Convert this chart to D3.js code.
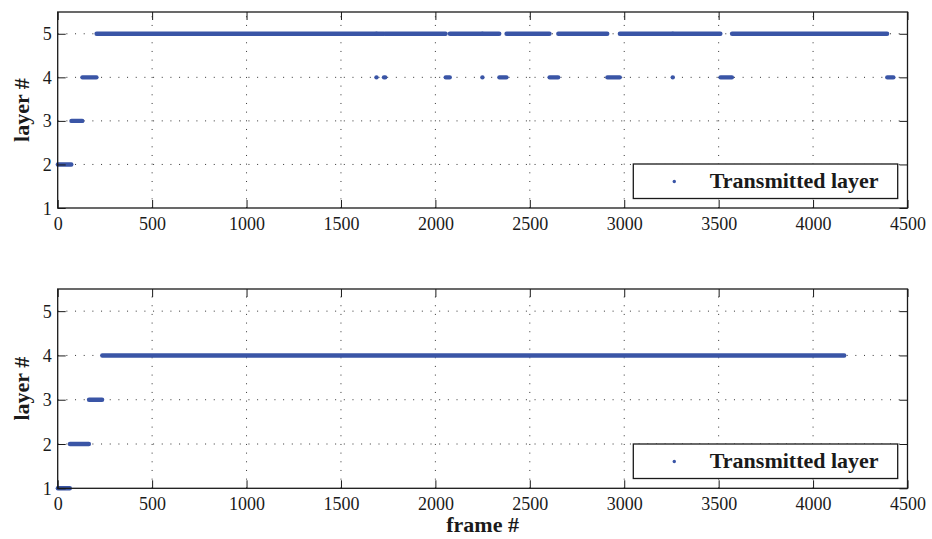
<!DOCTYPE html>
<html>
<head>
<meta charset="utf-8">
<script src="https://cdn.jsdelivr.net/npm/d3@7"></script>
<style>
  html, body { margin: 0; padding: 0; background: #fff; }
  svg { display: block; }
  text { font-family: "Liberation Serif", "Times New Roman", serif; fill: #1a1a1a; }
</style>
</head>
<body>
<script>
// Tick values shared by both panels
const xTicks = [0, 500, 1000, 1500, 2000, 2500, 3000, 3500, 4000, 4500];
const yTicks = [1, 2, 3, 4, 5];

// Upper panel: runs of consecutive frames sent at the same layer
const topRunStart = [1, 73, 131, 206, 1688, 1689, 1728, 1735, 2055, 2077, 2249, 2250, 2339, 2377, 2605, 2651, 2911, 2977, 3257, 3258, 3510, 3571, 4393];
const topRunEnd   = [72, 130, 205, 1687, 1688, 1727, 1734, 2054, 2076, 2248, 2249, 2338, 2376, 2604, 2650, 2910, 2976, 3256, 3257, 3509, 3570, 4392, 4425];
const topRunLayer = [2, 3, 4, 5, 4, 5, 4, 5, 4, 5, 4, 5, 4, 5, 4, 5, 4, 5, 4, 5, 4, 5, 4];

// Lower panel
const botRunStart = [1, 65, 166, 236];
const botRunEnd   = [64, 165, 235, 4165];
const botRunLayer = [1, 2, 3, 4];

const legendLabel = "Transmitted layer";
const xLabel = "frame #";
const yLabel = "layer #";

const W = 932, H = 539;
const blue = "#3a55a6";
const ink = "#1a1a1a";

const svg = d3.select("body").append("svg").attr("width", W).attr("height", H);

function panel(cfg) {
  const { top, bottom, starts, ends, layers, legendTop, showXLabel } = cfg;
  const left = 57.7, right = 907.5;
  const x = d3.scaleLinear().domain([0, 4500]).range([left, right]);
  const y = d3.scaleLinear().domain([1, 5.5]).range([bottom, top]);
  const g = svg.append("g");

  // dotted grid
  const grid = g.append("g").attr("stroke", "#333").attr("stroke-width", 1)
    .attr("stroke-dasharray", "1,7.67");
  grid.selectAll("line.v").data(xTicks.filter(d => d > 0 && d < 4500)).join("line")
    .attr("x1", d => x(d)).attr("x2", d => x(d))
    .attr("y1", bottom).attr("y2", top);
  grid.selectAll("line.h").data(yTicks.filter(d => d > 1)).join("line")
    .attr("x1", left).attr("x2", right)
    .attr("y1", d => y(d)).attr("y2", d => y(d));

  // data runs
  const runs = d3.range(starts.length).map(i => ({ s: starts[i], e: ends[i], l: layers[i] }));
  g.append("g").selectAll("line").data(runs).join("line")
    .attr("x1", d => x(d.s)).attr("x2", d => x(d.e))
    .attr("y1", d => y(d.l)).attr("y2", d => y(d.l))
    .attr("stroke", blue).attr("stroke-width", 4.4).attr("stroke-linecap", "round");

  // axes: bottom with labels, left with labels, inward ticks on all sides
  const tickLen = 8;
  const xb = g.append("g").attr("transform", `translate(0,${bottom})`)
    .call(d3.axisBottom(x).tickValues(xTicks).tickSize(-tickLen).tickPadding(0).tickFormat(d3.format("d")));
  xb.selectAll("text").attr("y", 22).attr("dy", null).attr("font-size", 18);
  const xt = g.append("g").attr("transform", `translate(0,${top})`)
    .call(d3.axisTop(x).tickValues(xTicks).tickSize(-tickLen).tickFormat(""));
  const yl = g.append("g").attr("transform", `translate(${left},0)`)
    .call(d3.axisLeft(y).tickValues(yTicks).tickSize(-tickLen).tickPadding(6).tickFormat(d3.format("d")));
  yl.selectAll("text").attr("x", -6).attr("dy", null).attr("y", 6).attr("font-size", 18);
  const yr = g.append("g").attr("transform", `translate(${right},0)`)
    .call(d3.axisRight(y).tickValues(yTicks).tickSize(-tickLen).tickFormat(""));
  [xb, xt, yl, yr].forEach(a => {
    a.select(".domain").remove();
    a.selectAll("line").attr("stroke", ink).attr("stroke-width", 1);
    a.selectAll("text").attr("fill", ink).style("font-family", "'Liberation Serif', serif");
  });
  // box
  g.append("rect").attr("x", left).attr("y", top)
    .attr("width", right - left).attr("height", bottom - top)
    .attr("fill", "none").attr("stroke", ink).attr("stroke-width", 1.3);

  // y label
  g.append("text")
    .attr("transform", `translate(28.5,${(top + bottom) / 2}) rotate(-90)`)
    .attr("text-anchor", "middle").attr("font-size", 22).attr("font-weight", "bold")
    .text(yLabel);
  if (showXLabel) {
    g.append("text").attr("x", (left + right) / 2).attr("y", 532)
      .attr("text-anchor", "middle").attr("font-size", 22).attr("font-weight", "bold")
      .text(xLabel);
  }

  // legend
  const lg = g.append("g").attr("transform", `translate(633.3,${legendTop})`);
  lg.append("rect").attr("width", 264.4).attr("height", 34.5)
    .attr("fill", "#fff").attr("stroke", ink).attr("stroke-width", 1.3);
  lg.append("circle").attr("cx", 41).attr("cy", 17.5).attr("r", 1.7).attr("fill", blue);
  lg.append("text").attr("x", 76.5).attr("y", 24).attr("font-size", 22).attr("font-weight", "bold")
    .text(legendLabel);
}

panel({ top: 12, bottom: 208, starts: topRunStart, ends: topRunEnd, layers: topRunLayer, legendTop: 164, showXLabel: false });
panel({ top: 289, bottom: 488.3, starts: botRunStart, ends: botRunEnd, layers: botRunLayer, legendTop: 444, showXLabel: true });
</script>
</body>
</html>
